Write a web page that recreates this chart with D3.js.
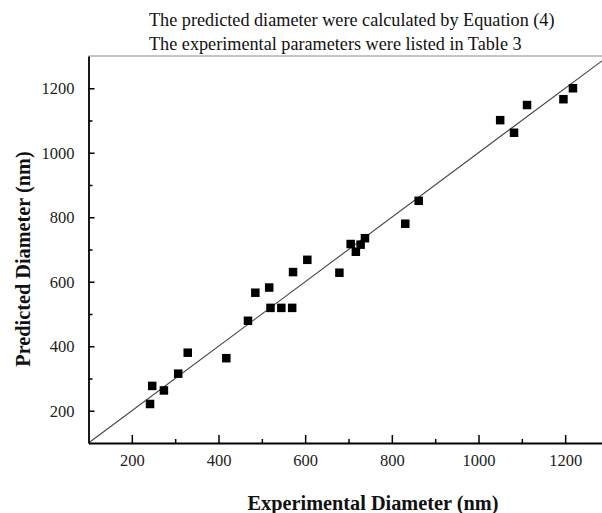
<!DOCTYPE html>
<html>
<head>
<meta charset="utf-8">
<script src="https://cdn.jsdelivr.net/npm/d3@7"></script>
<style>
  body { margin: 0; background: #fff; }
  svg { display: block; font-family: "Liberation Serif", "Times New Roman", serif; }
</style>
</head>
<body>
<div class="chart"></div>
<script>
// experimental vs predicted diameter (nm)
const expDiam = [242, 247, 274, 307, 329, 418, 468, 485, 517, 520, 545, 570, 572, 605, 679, 705, 717, 728, 738, 831, 862, 1050, 1082, 1112, 1196, 1218];
const predDiam = [221, 277, 263, 315, 380, 363, 479, 566, 582, 519, 519, 519, 630, 668, 628, 717, 693, 715, 735, 780, 851, 1101, 1062, 1148, 1166, 1200];
const majorTicks = [200, 400, 600, 800, 1000, 1200];
const minorTicks = [300, 500, 700, 900, 1100];
const titleLines = [
  "The predicted diameter were calculated by Equation (4)",
  "The experimental parameters were listed in Table 3"
];

const w = 602;
const h = 513;
const padL = 88.5, padR = 608.5, padT = 56, padB = 443;

let svg = d3.select(".chart").append("svg").attr("width", w).attr("height", h);

const xScale = d3.scaleLinear().domain([100, 1300]).range([padL, padR]);
const yScale = d3.scaleLinear().domain([100, 1300]).range([padB, padT]);

// top frame line (light)
svg.append("line")
  .attr("x1", padL).attr("x2", padR)
  .attr("y1", padT).attr("y2", padT)
  .attr("stroke", "#8a8a8a").attr("stroke-width", 1);

// y = x reference line
svg.append("line")
  .attr("x1", xScale(100)).attr("y1", yScale(100))
  .attr("x2", xScale(1300)).attr("y2", yScale(1300))
  .attr("stroke", "#444").attr("stroke-width", 1.1);

// minor ticks
svg.append("g")
  .attr("transform", `translate(0,${padB})`)
  .call(d3.axisBottom(xScale).tickValues(minorTicks).tickSize(-4).tickFormat(""))
  .call(g => g.select(".domain").remove());
svg.append("g")
  .attr("transform", `translate(${padL},0)`)
  .call(d3.axisLeft(yScale).tickValues(minorTicks).tickSize(-4).tickFormat(""))
  .call(g => g.select(".domain").remove());

// major axes
let xAxis = svg.append("g")
  .attr("transform", `translate(0,${padB})`)
  .call(d3.axisBottom(xScale).tickValues(majorTicks).tickFormat(d3.format("d"))
    .tickSize(-8).tickSizeOuter(0).tickPadding(11));
let yAxis = svg.append("g")
  .attr("transform", `translate(${padL},0)`)
  .call(d3.axisLeft(yScale).tickValues(majorTicks).tickFormat(d3.format("d"))
    .tickSize(-6).tickSizeOuter(0).tickPadding(14));

svg.selectAll(".tick line").attr("stroke", "#000").attr("stroke-width", 1.5);
[xAxis, yAxis].forEach(a => {
  a.attr("font-family", "Liberation Serif").attr("font-size", 16.5);
  a.select(".domain").attr("stroke", "#000").attr("stroke-width", 1.8);
  a.selectAll("text").attr("fill", "#222");
});

// data squares
const sq = 8.5;
svg.selectAll("rect.pt")
  .data(expDiam)
  .enter()
  .append("rect")
  .attr("class", "pt")
  .attr("x", d => xScale(d) - sq / 2)
  .attr("y", (d, i) => yScale(predDiam[i]) - sq / 2)
  .attr("width", sq)
  .attr("height", sq)
  .attr("fill", "#000");

// header lines
svg.selectAll("text.head")
  .data(titleLines)
  .enter()
  .append("text")
  .attr("class", "head")
  .attr("x", 149)
  .attr("y", (d, i) => 26 + i * 23.5)
  .attr("font-size", 18.2)
  .attr("fill", "#111")
  .text(d => d);

// axis titles
svg.append("text")
  .attr("x", 373)
  .attr("y", 510)
  .attr("text-anchor", "middle")
  .attr("font-size", 20.3)
  .attr("font-weight", "bold")
  .attr("fill", "#111")
  .text("Experimental Diameter (nm)");

svg.append("text")
  .attr("transform", "rotate(-90)")
  .attr("x", -259)
  .attr("y", 30)
  .attr("text-anchor", "middle")
  .attr("font-size", 20.3)
  .attr("font-weight", "bold")
  .attr("fill", "#111")
  .text("Predicted Diameter (nm)");
</script>
</body>
</html>
